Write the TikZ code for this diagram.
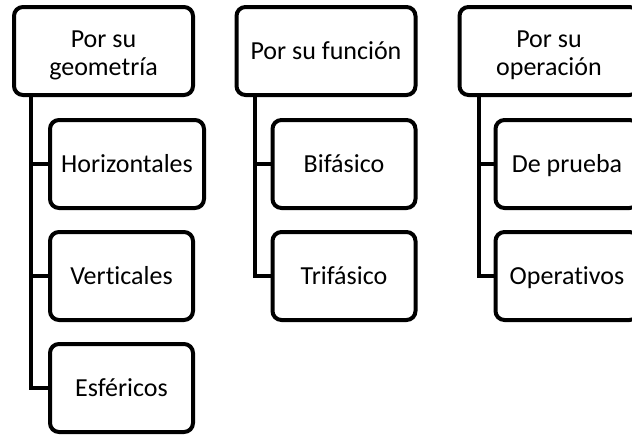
\documentclass[tikz,border=0pt]{standalone}
\usepackage{fontspec}
\setmainfont{Carlito}[Ligatures=NoCommon]
\usetikzlibrary{positioning}

\newcommand{\twolines}[2]{\raisebox{-4.4pt}[\height][\depth]{%
  \begin{tabular}{@{}c@{}}#1\\#2\end{tabular}}}

\tikzset{
  head/.style={draw, line width=4, rounded corners=9, minimum width=179,
    minimum height=88, inner sep=0pt, text height=16, text depth=0,
    font=\fontsize{26}{28}\selectfont},
  twohead/.style={head, text height=, text depth=},
  item/.style={head, minimum width=143},
  link/.style={line width=4, line join=miter}
}

\begin{document}
\begin{tikzpicture}[x=1pt,y=-1pt]
\useasboundingbox (0,0) rectangle (632,434);
\clip (0,0) rectangle (632,434);

% Geometry
\node[twohead] (geo) at (103.5,51) {\twolines{Por su}{geometría}};
\node[item, minimum width=154] (hor) at (127,164) {Horizontales};
\node[item] (ver) at (121.5,276) {Verticales};
\node[item] (esf) at (121.5,388) {Esféricos};

% Function
\node[head] (fun) at (326,51) {Por su función};
\node[item] (bif) at (344,164) {Bifásico};
\node[item] (tri) at (344,276) {Trifásico};

% Operation
\node[twohead] (ope) at (549,51) {\twolines{Por su}{operación}};
\node[item] (pru) at (567,164) {De prueba};
\node[item] (opv) at (567,276) {Operativos};

% Links
\draw[link] ([xshift=19]geo.south west) |- (esf.west);
\draw[link] ([xshift=19]geo.south west) |- (hor.west);
\draw[link] ([xshift=19]geo.south west) |- (ver.west);
\draw[link] ([xshift=20]fun.south west) |- (tri.west);
\draw[link] ([xshift=20]fun.south west) |- (bif.west);
\draw[link] ([xshift=21]ope.south west) |- (opv.west);
\draw[link] ([xshift=21]ope.south west) |- (pru.west);
\end{tikzpicture}
\end{document}
